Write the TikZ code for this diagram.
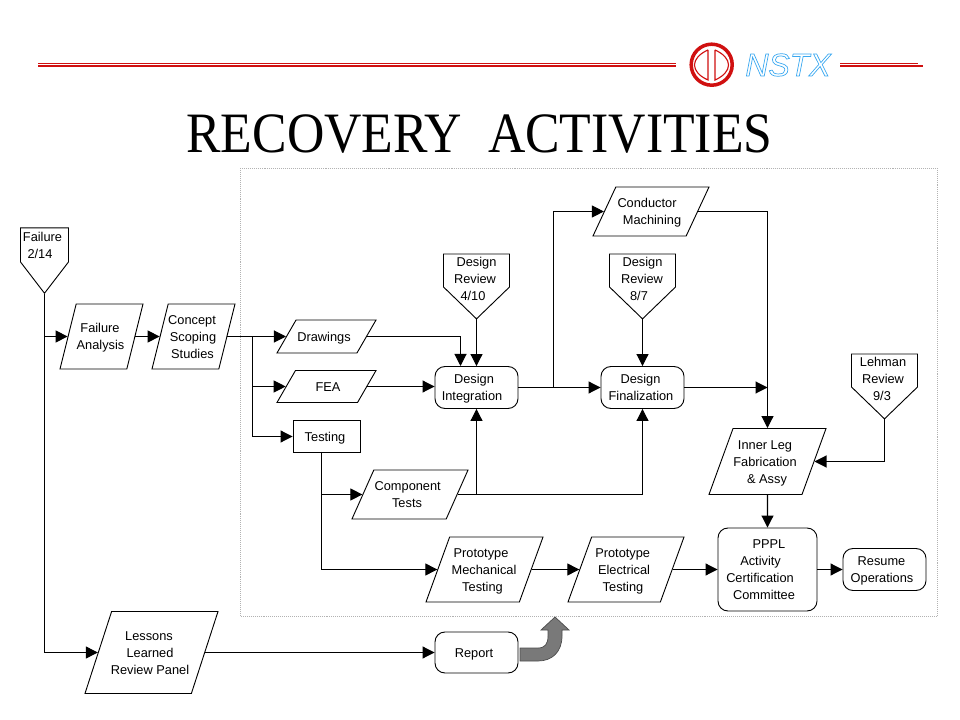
\documentclass[tikz,border=0pt]{standalone}
\usepackage{fontspec}
\setmainfont{Liberation Sans}
\newfontfamily\titlefont{Liberation Serif}
\usetikzlibrary{shapes.geometric,shapes.symbols,arrows.meta}
\definecolor{logored}{HTML}{D01010}
\definecolor{logoblue}{HTML}{3AA8F0}
\newdimen\pxunit \pxunit=1.417pt
% one text line, centred at an offset in pixels from the middle of its node
\newcommand{\lineat}[2]{\makebox[0pt]{\rule[-.5pt]{0pt}{1pt}\hspace*{#1\pxunit}\smash{\raisebox{-3.3pt}{#2}}}}
\tikzset{
  x=.025cm,y=-.025cm,
  every node/.style={font=\fontsize{9.1}{12}\selectfont,align=center,inner sep=0pt},
  flow/.style={line width=.75pt,-{Triangle[length=.3cm,width=.3cm]}},
  para/.style n args={2}{draw,line width=.65pt,trapezium,trapezium stretches body=true,text width=.8cm,
    text height=#2,text depth=#2,trapezium left angle=#1,trapezium right angle=180-#1},
  roundbox/.style={draw,line width=.65pt,rounded corners=.25cm},
  squarebox/.style={draw,line width=.65pt},
  review/.style={draw,line width=.65pt,signal,signal to=south,signal from=nowhere,
    signal pointer angle=#1,anchor=south}
}
\begin{document}
\begin{tikzpicture}
    \useasboundingbox (0,0) rectangle (960,720);
    % header
    \draw[logored,line width=.35pt](38,63)--(676,63);
    \draw[logored,line width=.8pt](38,66)--(676,66);
    \draw[logored,line width=.35pt](840,63)--(918,63);
    \draw[logored,line width=.8pt](840,66)--(923,66);
    \draw[logored,line width=2.5pt](711.7,64.7) circle (.5125cm);
    \draw[logored,line width=.8pt](708,50) .. controls (690,58) and (690,72) .. (708,80)--(708,50);
    \draw[logored,line width=.8pt](715,50) .. controls (733,58) and (733,72) .. (715,80)--(715,50);
    \node[font=\fontsize{22.7}{24}\selectfont\itshape,text=logoblue] (nstx) at (788,65) {\special{pdf: code 1 Tr 0.5 w}NSTX\special{pdf: code 0 Tr}};
    \node[font=\titlefont\fontsize{40.6}{44}\selectfont] (title) at (479.5,134) {\scalebox{.906}[1]{RECOVERY\ \ ACTIVITIES}};
    % frame
    \draw[gray!60,densely dotted,line width=.4pt](240,168) rectangle (937,616);
    % nodes
    \node[review=75,minimum width=1.2cm,minimum height=.85cm] (failure) at (44.5,294) {};
    \node (failure text) at (44,245.5) {\lineat{-1.5}{Failure}\\\lineat{-4}{2/14}};
    \node[para={76}{.8125cm},minimum width=2.075cm] (analysis) at (101.5,336.5) {};
    \node (analysis text) at (analysis.center) {\lineat{-1.5}{Failure}\\\lineat{-1}{Analysis}};
    \node[para={76}{.8125cm},minimum width=2.075cm] (concept) at (193.5,336.5) {};
    \node (concept text) at (concept.center) {\lineat{-1.5}{Concept}\\\lineat{-.5}{Scoping}\\\lineat{-1}{Studies}};
    \node[para={60}{.4125cm},minimum width=2.475cm] (drawings) at (326.5,336.5) {};
    \node (drawings text) at (drawings.center) {\lineat{-2.5}{Drawings}};
    \node[para={60}{.4cm},minimum width=2.475cm] (fea) at (326.5,386.5) {};
    \node (fea text) at (fea.center) {\lineat{1.5}{FEA}};
    \node[squarebox,minimum width=1.675cm,minimum height=.8cm] (testing) at (326.5,436.5) {\lineat{-1.5}{Testing}};
    \node[para={66}{.6125cm},minimum width=2.9cm] (component) at (410,494.5) {};
    \node (component text) at (component.center) {\lineat{-2.3}{Component}\\\lineat{-3}{Tests}};
    \node[para={70}{.8125cm},minimum width=2.925cm] (mech) at (484.5,569.5) {};
    \node (mech text) at (mech.center) {\lineat{-3.5}{Prototype}\\\lineat{-.5}{Mechanical}\\\lineat{-2}{Testing}};
    \node[para={70}{.8125cm},minimum width=2.9cm] (elec) at (626,569.5) {};
    \node (elec text) at (elec.center) {\lineat{-3.3}{Prototype}\\\lineat{-2}{Electrical}\\\lineat{-3}{Testing}};
    \node[para={72}{1.025cm},minimum width=3.325cm] (lessons) at (151.5,652.5) {};
    \node (lessons text) at (lessons.center) {\lineat{-2.5}{Lessons}\\\lineat{-1.5}{Learned}\\\lineat{-1.5}{Review Panel}};
    \node[para={65}{.6125cm},minimum width=2.9cm] (conductor) at (651,211.5) {};
    \node (conductor text) at (conductor.center) {\lineat{-4}{Conductor}\\\lineat{1}{Machining}};
    \node[para={70}{.825cm},minimum width=2.925cm] (innerleg) at (767.5,461.5) {};
    \node (innerleg text) at (innerleg.center) {\lineat{-2.5}{Inner Leg}\\\lineat{-2.5}{Fabrication}\\\lineat{-.5}{\& Assy}};
    \node[roundbox,minimum width=2.075cm,minimum height=1.05cm] (integration) at (476.5,387.5) {\lineat{-2.5}{Design}\\\lineat{-4.5}{Integration}};
    \node[roundbox,minimum width=2.075cm,minimum height=1.05cm] (finalization) at (642.5,387.5) {\lineat{-2}{Design}\\\lineat{-1.5}{Finalization}};
    \node[roundbox,minimum width=2.475cm,minimum height=2.075cm] (pppl) at (767.5,569.5) {\lineat{1.5}{PPPL}\\\lineat{-7}{Activity}\\\lineat{-7.5}{Certification}\\\lineat{-3.5}{Committee}};
    \node[roundbox,minimum width=2.075cm,minimum height=1.05cm] (resume) at (884.5,569.5) {\lineat{-3}{Resume}\\\lineat{-2.5}{Operations}};
    \node[roundbox,minimum width=2.075cm,minimum height=1.025cm] (report) at (476.5,652.5) {\lineat{-2.5}{Report}};
    \node[review=92,minimum width=1.65cm,minimum height=.825cm] (review a) at (476.5,319.5) {};
    \node (review a text) at (476.5,279) {\lineat{0}{Design}\\\lineat{-1.5}{Review}\\\lineat{-3.5}{4/10}};
    \node[review=92,minimum width=1.65cm,minimum height=.825cm] (review b) at (642.5,319.5) {};
    \node (review b text) at (642.5,279) {\lineat{0}{Design}\\\lineat{-.5}{Review}\\\lineat{-3.5}{8/7}};
    \node[review=92,minimum width=1.65cm,minimum height=.825cm] (lehman) at (884.5,419.5) {};
    \node (lehman text) at (884,378.5) {\lineat{-1}{Lehman}\\\lineat{-1}{Review}\\\lineat{-2}{9/3}};
    % junctions
    \coordinate (failure drop) at (failure.south |- analysis.west);
    \coordinate (concept drop) at (252.5,336.5);
    \coordinate (integration in) at (460.5,366);
    \coordinate (integration out) at (553.5,387.5);
    \coordinate (testing drop) at (321.5,452);
    \coordinate (component out) at (integration.south |- component.east);
    % connectors
    \draw[flow](failure.south)|-(lessons.west);
    \draw[flow](failure drop)--(analysis.west);
    \draw[flow](analysis.east)--(concept.west);
    \draw[flow](concept.east)--(drawings.west);
    \draw[flow](concept drop)|-(fea.west);
    \draw[flow](concept drop)|-(testing.west);
    \draw[flow](drawings.east)-|(integration in);
    \draw[flow](fea.east)--(integration.west |- fea.east);
    \draw[flow](review a.south)--(integration.north);
    \draw[flow](integration.east)--(finalization.west);
    \draw[flow](integration out)|-(conductor.west);
    \draw[flow](review b.south)--(finalization.north);
    \draw[flow](conductor.east)-|(innerleg.north);
    \draw[flow](finalization.east)--(innerleg.north |- finalization.east);
    \draw[flow](lehman.south)|-(innerleg.east);
    \draw[flow](testing drop)|-(mech.west);
    \draw[flow](testing drop |- component.west)--(component.west);
    \draw[flow](component.east)-|(finalization.south);
    \draw[flow](component out)--(integration.south);
    \draw[flow](mech.east)--(elec.west);
    \draw[flow](elec.east)--(pppl.west);
    \draw[flow](innerleg.south)--(pppl.north);
    \draw[flow](pppl.east)--(resume.west);
    \draw[flow](lessons.east)--(report.west);
    % curved block arrow
    \draw[fill=gray!95!black,draw=black!70,line width=.5pt](520,648)--(538,648) .. controls (545,648) and (548,644) .. (548,636)--(548,630)--(541,630)--(555,617)--(569,630)--(562,630)--(562,636) .. controls (562,652) and (552,661) .. (538,661)--(520,661)--cycle;
\end{tikzpicture}
\end{document}
